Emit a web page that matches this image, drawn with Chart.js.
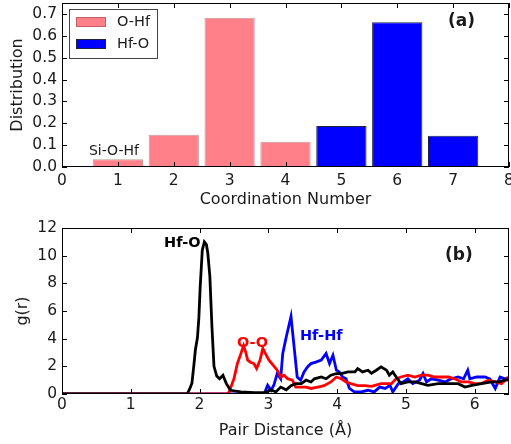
<!DOCTYPE html>
<html>
<head>
<meta charset="utf-8">
<script src="https://cdn.jsdelivr.net/npm/chart.js@4/dist/chart.umd.min.js"></script>
<style>
  html, body { margin: 0; padding: 0; background: #fff; }
  body { width: 511px; height: 444px; position: relative; overflow: hidden; }
  canvas { position: absolute; left: 0; }
  #chartA { top: 0; }
  #chartB { top: 215px; }
</style>
</head>
<body>
<canvas id="chartA" width="511" height="215"></canvas>
<canvas id="chartB" width="511" height="229"></canvas>
<script>
// ---- panel (a): coordination number distribution ----
const ohfCoord = [1, 2, 3, 4];
const ohfDist  = [0.035, 0.147, 0.682, 0.115];
const hfoCoord = [5, 6, 7];
const hfoDist  = [0.188, 0.662, 0.143];

// ---- panel (b): pair distribution g(r) ----
const hfoR = [0, 1.82, 1.86, 1.89, 1.92, 1.94, 1.97, 1.99, 2.01, 2.04, 2.07, 2.10, 2.12, 2.15, 2.18, 2.21,
  2.25, 2.29, 2.31, 2.34, 2.39, 2.45, 2.6, 2.8, 2.95, 3.04, 3.11, 3.18, 3.26, 3.33, 3.40, 3.48, 3.55,
  3.62, 3.67, 3.77, 3.84, 3.91, 3.99, 4.06, 4.16, 4.26, 4.30, 4.37, 4.45, 4.50, 4.57, 4.64, 4.72, 4.76,
  4.81, 4.86, 4.93, 5.03, 5.13, 5.23, 5.32, 5.47, 5.62, 5.76, 5.86, 5.96, 6.10, 6.25, 6.35, 6.44, 6.5];
const hfoG = [0, 0, 0.4, 0.8, 2.2, 3.2, 4.1, 5.5, 7.8, 10.4, 11.0, 10.8, 10.2, 8.5, 4.9, 2.0,
  1.3, 1.1, 1.2, 1.35, 0.75, 0.27, 0.15, 0.1, 0.1, 0.3, 0.15, 0.5, 0.3, 0.6, 0.75, 0.75, 1.0,
  0.87, 1.1, 1.23, 1.1, 1.36, 1.48, 1.48, 1.6, 1.6, 1.84, 1.6, 1.72, 1.5, 1.72, 1.96, 1.72, 1.36,
  1.6, 1.23, 0.75, 0.87, 0.87, 0.75, 0.63, 0.75, 0.75, 0.75, 0.5, 0.63, 0.75, 0.87, 0.87, 1.0, 1.05];

const ooR = [0, 2.40, 2.43, 2.50, 2.55, 2.60, 2.64, 2.67, 2.70, 2.74, 2.79, 2.83, 2.88, 2.92, 2.96,
  3.01, 3.09, 3.13, 3.18, 3.23, 3.28, 3.35, 3.40, 3.48, 3.55, 3.62, 3.72, 3.81, 3.91, 3.99, 4.06,
  4.13, 4.20, 4.30, 4.40, 4.50, 4.64, 4.79, 4.86, 4.93, 5.03, 5.13, 5.23, 5.32, 5.42, 5.52, 5.62,
  5.71, 5.81, 5.91, 6.00, 6.10, 6.20, 6.30, 6.39, 6.47, 6.5];
const ooG = [0, 0, 0.15, 1.1, 2.2, 2.9, 3.5, 3.05, 2.45, 2.3, 2.2, 1.84, 2.45, 3.3, 2.9,
  2.45, 1.96, 1.72, 1.23, 1.36, 1.11, 1.0, 0.5, 0.5, 0.5, 0.4, 0.5, 0.6, 0.87, 1.23, 1.1,
  0.87, 0.75, 0.6, 0.6, 0.55, 0.75, 0.75, 1.1, 1.23, 1.36, 1.23, 1.36, 1.36, 1.23, 1.23, 1.23,
  1.1, 0.87, 0.87, 0.75, 0.75, 1.0, 0.87, 0.75, 1.1, 0.95];

const hfhfR = [0, 2.94, 2.99, 3.04, 3.08, 3.13, 3.18, 3.21, 3.26, 3.33, 3.38, 3.42, 3.47, 3.52, 3.57,
  3.62, 3.69, 3.77, 3.84, 3.89, 3.94, 3.99, 4.03, 4.08, 4.13, 4.18, 4.25, 4.35, 4.45, 4.54, 4.62,
  4.70, 4.77, 4.81, 4.89, 4.96, 5.03, 5.10, 5.20, 5.25, 5.30, 5.37, 5.47, 5.57, 5.66, 5.76, 5.84,
  5.90, 5.93, 6.03, 6.15, 6.22, 6.30, 6.37, 6.44, 6.5];
const hfhfG = [0, 0, 0.63, 0.27, 0.63, 1.48, 1.1, 2.93, 4.1, 5.6, 3.17, 1.23, 1.0, 1.6, 1.96,
  2.2, 2.3, 2.45, 2.93, 2.2, 2.8, 1.72, 1.6, 1.23, 1.1, 0.4, 0.15, 0.15, 0.27, 0.15, 0.5,
  0.4, 0.63, 0.15, 0.75, 0.87, 1.1, 0.75, 1.0, 1.48, 0.87, 1.1, 1.0, 0.87, 1.1, 1.23, 1.1,
  1.72, 1.1, 1.23, 1.23, 1.1, 0.4, 1.23, 1.1, 1.2];

const pts = (xs, ys) => xs.map((x, i) => ({ x: x, y: ys[i] }));

Chart.defaults.font.family = "'DejaVu Sans', sans-serif";
Chart.defaults.color = "#222";

const PINK = "#ff8088";
const BLUE = "#0000ff";
const TXT = "#1a1a1a";

// frame + inward ticks on all four sides, like the matplotlib original
const frameTicks = {
  id: "frameTicks",
  afterDatasetsDraw(chart) {
    const { ctx, chartArea: a, scales: { x, y } } = chart;
    ctx.save();
    ctx.strokeStyle = "#000";
    ctx.lineWidth = 1;
    ctx.beginPath();
    x.ticks.forEach(t => {
      const px = Math.round(x.getPixelForValue(t.value)) + 0.5;
      ctx.moveTo(px, a.bottom); ctx.lineTo(px, a.bottom - 5);
      ctx.moveTo(px, a.top); ctx.lineTo(px, a.top + 5);
    });
    y.ticks.forEach(t => {
      const py = Math.round(y.getPixelForValue(t.value)) + 0.5;
      ctx.moveTo(a.left, py); ctx.lineTo(a.left + 5, py);
      ctx.moveTo(a.right, py); ctx.lineTo(a.right - 5, py);
    });
    ctx.stroke();
    ctx.strokeRect(a.left + 0.5, a.top + 0.5, a.width - 1, a.height - 1);
    ctx.restore();
  }
};

// text labels placed in data coordinates
const labelsPlugin = {
  id: "labels",
  afterDraw(chart, args, opts) {
    const { ctx, scales: { x, y } } = chart;
    ctx.save();
    ctx.textAlign = "center";
    ctx.textBaseline = "middle";
    (opts.items || []).forEach(l => {
      ctx.font = l.font;
      ctx.fillStyle = l.color;
      ctx.fillText(l.text, x.getPixelForValue(l.x), y.getPixelForValue(l.y));
    });
    ctx.restore();
  }
};

// boxed legend in the upper-left corner of panel (a)
const boxLegend = {
  id: "boxLegend",
  afterDraw(chart) {
    const { ctx, chartArea: a } = chart;
    const bx = a.left + 7, by = a.top + 6;
    ctx.save();
    ctx.fillStyle = "#fff";
    ctx.strokeStyle = "#444";
    ctx.lineWidth = 1;
    ctx.fillRect(bx, by, 88, 49);
    ctx.strokeRect(bx + 0.5, by + 0.5, 88, 49);
    chart.data.datasets.forEach((ds, i) => {
      const ry = by + 8 + i * 22;
      ctx.fillStyle = ds.backgroundColor;
      ctx.fillRect(bx + 7, ry, 30, 10);
      ctx.strokeStyle = ds.borderColor;
      ctx.strokeRect(bx + 7.5, ry + 0.5, 29, 9);
      ctx.fillStyle = TXT;
      ctx.font = "14.5px 'DejaVu Sans'";
      ctx.textAlign = "left";
      ctx.textBaseline = "middle";
      ctx.fillText(ds.label, bx + 48, ry + 5.5);
    });
    ctx.restore();
  }
};

function fixY(width) {
  return s => { s.width = width; s.paddingTop = 0; s.paddingBottom = 0; };
}
function fixX(height) {
  return s => { s.height = height; s.paddingLeft = 0; s.paddingRight = 0; };
}

new Chart(document.getElementById("chartA"), {
  type: "bar",
  data: {
    datasets: [
      { label: "O-Hf", data: pts(ohfCoord, ohfDist), backgroundColor: PINK,
        borderColor: "rgba(150,70,75,0.55)", borderWidth: 1 },
      { label: "Hf-O", data: pts(hfoCoord, hfoDist), backgroundColor: BLUE,
        borderColor: "#222244", borderWidth: 1 }
    ]
  },
  options: {
    responsive: false,
    animation: false,
    layout: { padding: { top: 3, right: 2, left: 0, bottom: 0 } },
    grouped: false,
    barPercentage: 0.9,
    categoryPercentage: 1.0,
    plugins: {
      legend: { display: false },
      tooltip: { enabled: false },
      labels: {
        items: [
          { text: "Si-O-Hf", x: 0.93, y: 0.07, font: "14px 'DejaVu Sans'", color: TXT },
          { text: "(a)", x: 7.15, y: 0.663, font: "bold 17px 'DejaVu Sans'", color: TXT }
        ]
      }
    },
    scales: {
      x: {
        type: "linear", min: 0, max: 8, offset: false,
        grid: { display: false, drawTicks: false, offset: false }, border: { display: false },
        ticks: { stepSize: 1, padding: 5, color: TXT, font: { size: 15.5 } },
        title: { display: true, text: "Coordination Number", color: TXT,
                 font: { size: 16 }, padding: { top: 0, bottom: 6 } },
        afterFit: fixX(48)
      },
      y: {
        min: 0, max: 0.75,
        grid: { display: false, drawTicks: false }, border: { display: false },
        ticks: { stepSize: 0.1, includeBounds: false, padding: 5, color: TXT,
                 font: { size: 15.5 }, callback: v => v.toFixed(1) },
        title: { display: true, text: "Distribution", color: TXT,
                 font: { size: 16 }, padding: { top: 8, bottom: 0 } },
        afterFit: fixY(62)
      }
    }
  },
  plugins: [frameTicks, labelsPlugin, boxLegend]
});

new Chart(document.getElementById("chartB"), {
  type: "line",
  data: {
    datasets: [
      { label: "Hf-O", data: pts(hfoR, hfoG), borderColor: "#000", borderWidth: 2.8,
        pointRadius: 0, tension: 0, fill: false },
      { label: "O-O", data: pts(ooR, ooG), borderColor: "#ff0000", borderWidth: 2.8,
        pointRadius: 0, tension: 0, fill: false },
      { label: "Hf-Hf", data: pts(hfhfR, hfhfG), borderColor: BLUE, borderWidth: 2.8,
        pointRadius: 0, tension: 0, fill: false }
    ]
  },
  options: {
    responsive: false,
    animation: false,
    layout: { padding: { top: 13, right: 2, left: 0, bottom: 0 } },
    plugins: {
      legend: { display: false },
      tooltip: { enabled: false },
      labels: {
        items: [
          { text: "Hf-O", x: 1.75, y: 10.9, font: "bold 14.5px 'DejaVu Sans'", color: "#000" },
          { text: "O-O", x: 2.77, y: 3.7, font: "bold 14.5px 'DejaVu Sans'", color: "#ff0000" },
          { text: "Hf-Hf", x: 3.77, y: 4.14, font: "bold 14.5px 'DejaVu Sans'", color: BLUE },
          { text: "(b)", x: 5.77, y: 10.0, font: "bold 17px 'DejaVu Sans'", color: TXT }
        ]
      }
    },
    scales: {
      x: {
        type: "linear", min: 0, max: 6.5,
        grid: { display: false, drawTicks: false }, border: { display: false },
        ticks: { stepSize: 1, includeBounds: false, padding: 2, color: TXT, font: { size: 15.5 } },
        title: { display: true, text: "Pair Distance (Å)", color: TXT,
                 font: { size: 16 }, padding: { top: 0, bottom: 4 } },
        afterFit: fixX(50)
      },
      y: {
        min: 0, max: 12,
        grid: { display: false, drawTicks: false }, border: { display: false },
        ticks: { stepSize: 2, padding: 5, color: TXT, font: { size: 15.5 } },
        title: { display: true, text: "g(r)", color: TXT,
                 font: { size: 16 }, padding: { top: 13, bottom: 0 } },
        afterFit: fixY(62)
      }
    }
  },
  plugins: [frameTicks, labelsPlugin]
});
</script>
</body>
</html>
